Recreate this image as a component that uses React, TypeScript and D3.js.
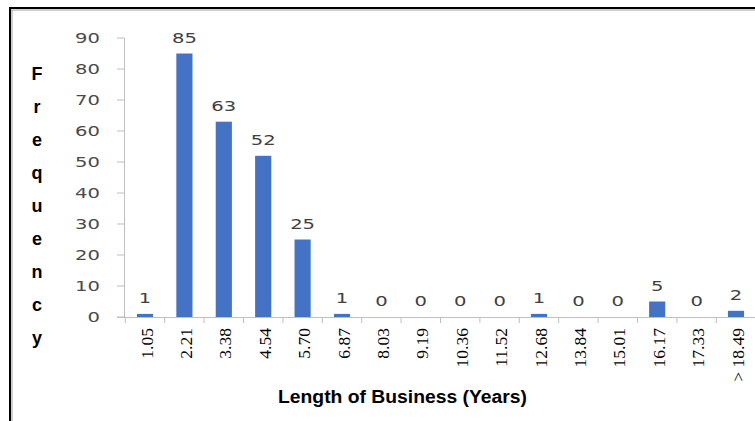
import React from "react";
import * as d3 from "d3";

const categories = ["1.05","2.21","3.38","4.54","5.70","6.87","8.03","9.19","10.36","11.52","12.68","13.84","15.01","16.17","17.33","> 18.49"];
const frequencies = [1,85,63,52,25,1,0,0,0,0,1,0,0,5,0,2];
const yTicks = [0,10,20,30,40,50,60,70,80,90];
const yTitleLetters = ["F","r","e","q","u","e","n","c","y"];
const xTitle = "Length of Business (Years)";

export default function App() {
  const W = 755, H = 421;
  const x = d3.scaleBand<string>().domain(categories).range([125.3, 755.7]).paddingInner(0.59).paddingOuter(0.295);
  const y = d3.scaleLinear().domain([0, 90]).range([317, 38]);
  const axisColor = "#bfbfbf";
  const step = x.step();
  const boundaries = categories.map((c) => (x(c) as number) - (step - x.bandwidth()) / 2).concat([(x(categories[categories.length - 1]) as number) + x.bandwidth() + (step - x.bandwidth()) / 2]);
  return (
    <svg width={W} height={H} style={{ position: "absolute", left: 0, top: 0, background: "#fff" }}>
      <rect x={0} y={0} width={W} height={H} fill="#fff" />
      {/* frame */}
      <line x1={10} y1={10} x2={W} y2={10} stroke="#a0a0a0" strokeWidth={1} />
      <line x1={12} y1={10} x2={12} y2={H} stroke="#a0a0a0" strokeWidth={1} />
      <line x1={9} y1={8} x2={W} y2={8} stroke="#000" strokeWidth={2} />
      <line x1={10} y1={8} x2={10} y2={H} stroke="#000" strokeWidth={2} />
      {/* y axis */}
      <line x1={124.5} y1={y(90)} x2={124.5} y2={y(0)} stroke={axisColor} strokeWidth={1} />
      {yTicks.map((t) => (
        <g key={t}>
          <line x1={117} x2={124.5} y1={y(t)} y2={y(t)} stroke={axisColor} />
          <text transform={`translate(100,${y(t)}) scale(1.45,1)`} textAnchor="end" dominantBaseline="central" fontFamily="DejaVu Sans" fontSize={13.5} fill="#4a4a4a">{t}</text>
        </g>
      ))}
      {/* x axis */}
      <line x1={117} x2={W} y1={y(0) + 0.5} y2={y(0) + 0.5} stroke={axisColor} strokeWidth={1} />
      {boundaries.map((b, i) => (
        <line key={i} x1={b} x2={b} y1={y(0)} y2={y(0) + 6} stroke={axisColor} />
      ))}
      {/* bars */}
      {categories.map((c, i) => (
        <rect key={c} x={x(c)} y={y(frequencies[i])} width={x.bandwidth()} height={y(0) - y(frequencies[i])} fill="#4472c4" />
      ))}
      {/* data labels */}
      {categories.map((c, i) => (
        <text key={c} transform={`translate(${(x(c) as number) + x.bandwidth() / 2},${y(frequencies[i]) - 11}) scale(1.45,1)`} textAnchor="middle" fontFamily="DejaVu Sans" fontSize={13.5} fill="#404040">{frequencies[i]}</text>
      ))}
      {/* x tick labels */}
      {categories.map((c) => (
        <text key={c} transform={`translate(${(x(c) as number) + x.bandwidth() / 2 + 1.5},328) rotate(-90)`} textAnchor="end" dominantBaseline="central" fontFamily="Liberation Serif" fontSize={17.5} fill="#000">{c}</text>
      ))}
      {/* y title */}
      {yTitleLetters.map((l, i) => (
        <text key={i} x={37} y={74 + i * 33} textAnchor="middle" dominantBaseline="central" fontFamily="Liberation Sans" fontWeight="bold" fontSize={18} fill="#000">{l}</text>
      ))}
      <text x={278} y={403} textLength={249} lengthAdjust="spacingAndGlyphs" fontFamily="Liberation Sans" fontWeight="bold" fontSize={18} fill="#000">{xTitle}</text>
    </svg>
  );
}
